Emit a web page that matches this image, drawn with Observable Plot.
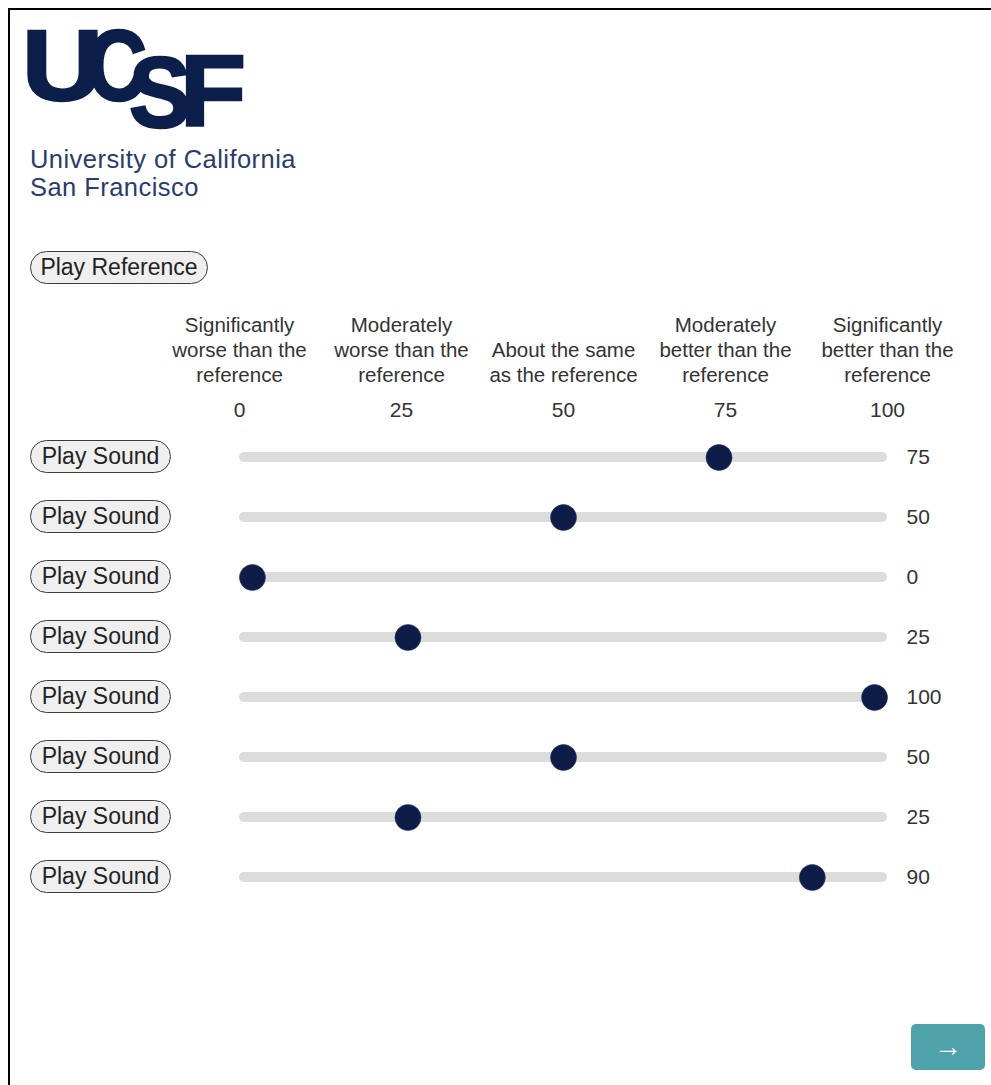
<!DOCTYPE html>
<html>
<head>
<meta charset="utf-8">
<script src="https://cdn.jsdelivr.net/npm/d3@7"></script>
<script src="https://cdn.jsdelivr.net/npm/@observablehq/plot@0.6"></script>
<style>
html, body { margin: 0; padding: 0; background: #fff; }
body { width: 991px; height: 1085px; overflow: hidden; position: relative;
  font-family: "Liberation Sans", Arial, Helvetica, sans-serif; }
#frame { position: absolute; left: 8px; top: 8px; width: 1100px; height: 1200px;
  border-left: 2px solid #000; border-top: 2px solid #000; }
#logo { position: absolute; left: 0; top: 0; }
.btn { position: absolute; box-sizing: border-box; background: #efefef; border: 1px solid #3a3a3a;
  border-radius: 17px; color: #222; font-size: 23px; display: flex; align-items: center;
  justify-content: center; white-space: nowrap; }
#chart { position: absolute; left: 0; top: 300px; }
#next { position: absolute; left: 911px; top: 1024px; width: 74px; height: 46px; background: #4ea3ab;
  border-radius: 5px; color: #fff; font-size: 28px; display: flex; align-items: center; justify-content: center; }
</style>
</head>
<body>
<div id="frame"></div>
<svg id="logo" width="320" height="210">
  <text fill="#0b1f4a" stroke="#0b1f4a" stroke-width="2.5" font-family="Liberation Sans, Arial, sans-serif" font-weight="bold" font-size="100"><tspan x="22" y="100" textLength="81" lengthAdjust="spacingAndGlyphs">U</tspan><tspan x="87" y="100" textLength="60" lengthAdjust="spacingAndGlyphs">C</tspan><tspan x="129" y="127" textLength="62" lengthAdjust="spacingAndGlyphs">S</tspan><tspan x="180" y="125" textLength="66" lengthAdjust="spacingAndGlyphs">F</tspan></text>
  <text fill="#2b3c68" font-family="Liberation Sans, Arial, sans-serif" font-size="25.5" letter-spacing="0.45"><tspan x="30" y="168">University of California</tspan><tspan x="30" y="196">San Francisco</tspan></text>
</svg>
<div id="root"></div>
<script>
// ---- data ----
const sounds = ["Sound 1", "Sound 2", "Sound 3", "Sound 4", "Sound 5", "Sound 6", "Sound 7", "Sound 8"];
const ratings = [75, 50, 0, 25, 100, 50, 25, 90];
const scaleTicks = [0, 25, 50, 75, 100];
const scaleLabels = [
  "Significantly\nworse than the\nreference",
  "Moderately\nworse than the\nreference",
  "About the same\nas the reference",
  "Moderately\nbetter than the\nreference",
  "Significantly\nbetter than the\nreference"
];
const referenceButtonLabel = "Play Reference";
const soundButtonLabel = "Play Sound";

// ---- build ----
const rows = sounds.map((s, i) => ({sound: s, rating: ratings[i]}));
const ticks = scaleTicks.map((t, i) => ({tick: t, label: scaleLabels[i]}));
const THUMB = 2; // range-input thumb inset, in slider units
const font = "Liberation Sans, Arial, Helvetica, sans-serif";

const chart = Plot.plot({
  width: 991,
  height: 630,
  marginLeft: 239,
  marginRight: 104,
  marginTop: 126,
  marginBottom: 23,
  x: {domain: [0, 100], axis: null},
  y: {domain: sounds, type: "band", padding: 0, axis: null},
  style: {fontFamily: font, background: "transparent", color: "#333", overflow: "visible"},
  marks: [
    Plot.text(ticks, {x: "tick", text: "label", frameAnchor: "top", lineAnchor: "bottom", dy: -45,
      fontSize: 20.5, lineHeight: 1.2, fill: "#333"}),
    Plot.text(ticks, {x: "tick", text: d => String(d.tick), frameAnchor: "top", dy: -24,
      fontSize: 21, fill: "#333"}),
    Plot.barX(rows, {x1: 0, x2: 100, y: "sound", insetTop: 25, insetBottom: 25, rx: 5, fill: "#dcdcdc"}),
    Plot.dot(rows, {x: d => THUMB + d.rating * (100 - 2 * THUMB) / 100, y: "sound", r: 13,
      fill: "#0e1c48", stroke: "#2b3866", strokeWidth: 0.6}),
    Plot.text(rows, {x: 100, y: "sound", text: d => String(d.rating), textAnchor: "start", dx: 19,
      fontSize: 21, fill: "#333"})
  ]
});
chart.id = "chart";
const root = document.getElementById("root");
root.appendChild(chart);

// buttons
const ref = document.createElement("div");
ref.className = "btn";
ref.textContent = referenceButtonLabel;
Object.assign(ref.style, {left: "30px", top: "251px", width: "178px", height: "33px"});
root.appendChild(ref);

const ys = chart.scale("y");
rows.forEach(r => {
  const cy = 300 + ys.apply(r.sound) + ys.bandwidth / 2;
  const b = document.createElement("div");
  b.className = "btn";
  b.textContent = soundButtonLabel;
  Object.assign(b.style, {left: "30px", top: (cy - 17) + "px", width: "141px", height: "33px"});
  root.appendChild(b);
});

const next = document.createElement("div");
next.id = "next";
next.textContent = "→";
root.appendChild(next);
</script>
</body>
</html>
